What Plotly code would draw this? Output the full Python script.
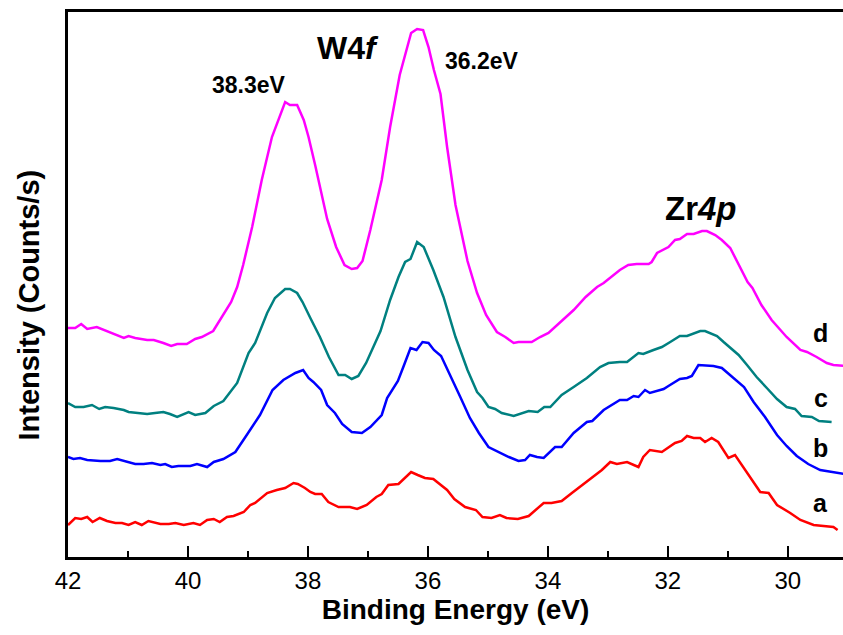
import plotly.graph_objects as go

# Binding energy (eV) and intensity (arb. counts)
energy_d = [42.00, 41.88, 41.78, 41.68, 41.52, 41.35, 41.21, 41.07, 40.99, 40.88, 40.68, 40.57, 40.41, 40.28, 40.18, 40.02,
            39.88, 39.77, 39.58, 39.43, 39.28, 39.18, 39.08, 38.93, 38.77, 38.60, 38.49, 38.38, 38.30, 38.18, 38.07, 37.99,
            37.88, 37.68, 37.53, 37.39, 37.27, 37.18, 37.09, 36.96, 36.77, 36.63, 36.47, 36.36, 36.28, 36.18, 36.08, 35.99,
            35.90, 35.79, 35.68, 35.54, 35.34, 35.18, 35.03, 34.85, 34.71, 34.57, 34.49, 34.27, 34.13, 33.99, 33.85, 33.71,
            33.57, 33.37, 33.18, 33.07, 32.93, 32.80, 32.66, 32.52, 32.32, 32.27, 32.18, 31.99, 31.88, 31.80, 31.68, 31.57,
            31.43, 31.35, 31.21, 31.10, 30.96, 30.81, 30.67, 30.59, 30.44, 30.27, 30.02, 29.79, 29.68, 29.52, 29.35, 29.24,
            29.05]
intensity_d = [229, 229, 233, 228, 230, 226, 223, 219, 221, 219, 217, 217, 214, 211, 213, 213,
               218, 220, 226, 240, 255, 270, 292, 330, 377, 420, 437, 455, 452, 452, 437, 420,
               392, 338, 310, 292, 288, 289, 296, 327, 377, 430, 482, 507, 524, 528, 527, 510,
               487, 463, 410, 352, 296, 264, 242, 225, 220, 214, 215, 215, 220, 224, 232, 239,
               247, 260, 270, 274, 281, 287, 292, 293, 293, 295, 304, 310, 317, 318, 323, 323,
               326, 326, 322, 317, 309, 291, 275, 269, 252, 237, 220, 207, 205, 200, 194, 192,
               191]

energy_c = [42.00, 41.88, 41.74, 41.60, 41.48, 41.38, 41.24, 41.07, 40.99, 40.80, 40.68, 40.55, 40.41, 40.30, 40.18, 39.99,
            39.88, 39.71, 39.57, 39.41, 39.18, 38.99, 38.88, 38.68, 38.55, 38.38, 38.30, 38.18, 38.09, 37.96, 37.80, 37.65,
            37.49, 37.38, 37.27, 37.16, 37.03, 36.79, 36.63, 36.49, 36.38, 36.29, 36.18, 36.07, 35.91, 35.74, 35.54, 35.34,
            35.18, 35.09, 34.99, 34.88, 34.77, 34.57, 34.40, 34.32, 34.17, 34.06, 33.96, 33.77, 33.57, 33.35, 33.13, 32.99,
            32.80, 32.68, 32.49, 32.41, 32.24, 32.10, 31.96, 31.80, 31.68, 31.46, 31.38, 31.27, 31.18, 31.07, 30.94, 30.82,
            30.68, 30.52, 30.35, 30.18, 30.02, 29.88, 29.77, 29.60, 29.48, 29.27]
intensity_c = [154, 150, 150, 152, 148, 150, 149, 147, 145, 144, 143, 144, 145, 143, 140, 145,
               142, 144, 151, 156, 174, 204, 214, 244, 259, 268, 268, 264, 255, 239, 220, 200,
               182, 182, 178, 181, 194, 226, 257, 280, 295, 298, 315, 310, 287, 260, 220, 187,
               165, 159, 150, 148, 144, 141, 144, 146, 145, 150, 150, 162, 170, 179, 190, 194,
               195, 195, 204, 203, 207, 210, 215, 221, 221, 226, 226, 223, 221, 215, 208, 202,
               192, 180, 169, 158, 150, 148, 141, 140, 136, 135]

energy_b = [42.00, 41.91, 41.80, 41.68, 41.46, 41.30, 41.18, 41.02, 40.88, 40.74, 40.60, 40.46, 40.38, 40.27, 40.16, 39.96,
            39.85, 39.68, 39.57, 39.41, 39.21, 39.02, 38.80, 38.59, 38.41, 38.21, 38.08, 37.99, 37.91, 37.78, 37.68, 37.55,
            37.43, 37.27, 37.10, 36.96, 36.84, 36.77, 36.68, 36.50, 36.41, 36.29, 36.19, 36.09, 35.99, 35.90, 35.78, 35.60,
            35.46, 35.30, 35.15, 34.99, 34.83, 34.65, 34.49, 34.38, 34.30, 34.18, 34.07, 33.96, 33.88, 33.77, 33.57, 33.35,
            33.26, 33.07, 32.80, 32.68, 32.57, 32.49, 32.38, 32.30, 32.07, 31.99, 31.80, 31.68, 31.60, 31.49, 31.32, 31.24,
            31.10, 30.96, 30.73, 30.57, 30.38, 30.18, 30.02, 29.85, 29.66, 29.46, 29.24, 29.10, 29.05]
intensity_b = [100, 98, 99, 97, 96, 96, 98, 95, 93, 93, 94, 92, 93, 90, 91, 91,
               93, 90, 95, 98, 105, 122, 142, 167, 177, 184, 187, 179, 175, 167, 152, 144,
               133, 125, 124, 130, 138, 142, 159, 176, 190, 209, 207, 215, 214, 207, 201, 177,
               160, 139, 124, 110, 105, 100, 96, 97, 102, 100, 99, 105, 110, 110, 124, 135,
               136, 147, 157, 157, 161, 160, 167, 164, 168, 171, 178, 179, 181, 192, 191, 191,
               189, 182, 170, 155, 140, 122, 111, 101, 93, 87, 85, 83, 83]

energy_a = [42.00, 41.88, 41.78, 41.68, 41.59, 41.47, 41.35, 41.21, 41.10, 40.99, 40.88, 40.77, 40.66, 40.46, 40.32, 40.21,
            40.07, 39.91, 39.80, 39.68, 39.57, 39.47, 39.35, 39.24, 39.07, 38.96, 38.88, 38.68, 38.52, 38.38, 38.24, 38.17,
            38.05, 37.96, 37.88, 37.77, 37.66, 37.49, 37.30, 37.18, 37.02, 36.86, 36.77, 36.66, 36.49, 36.38, 36.28, 36.17,
            36.05, 35.91, 35.78, 35.68, 35.56, 35.38, 35.20, 35.09, 34.94, 34.80, 34.69, 34.50, 34.32, 34.18, 34.07, 33.94,
            33.77, 33.60, 33.41, 33.21, 33.10, 32.96, 32.85, 32.68, 32.49, 32.41, 32.30, 32.10, 31.88, 31.77, 31.68, 31.57,
            31.46, 31.38, 31.27, 31.16, 30.99, 30.88, 30.68, 30.46, 30.32, 30.18, 29.96, 29.79, 29.57, 29.38, 29.24, 29.17]
intensity_a = [32, 39, 38, 40, 35, 39, 36, 34, 34, 32, 35, 32, 36, 33, 33, 34,
               32, 34, 32, 37, 38, 35, 40, 41, 45, 52, 54, 64, 67, 69, 74, 73,
               69, 65, 63, 63, 55, 50, 50, 48, 52, 60, 63, 72, 73, 79, 85, 82,
               79, 78, 72, 67, 58, 50, 47, 40, 39, 42, 39, 38, 41, 48, 54, 54,
               56, 64, 73, 82, 87, 95, 93, 95, 90, 100, 107, 105, 114, 116, 121, 119,
               119, 115, 119, 115, 99, 102, 84, 65, 64, 52, 44, 37, 32, 31, 30, 27]

series_names = ["d", "c", "b", "a"]
series_colors = ["#FF00FF", "#008080", "#0000FF", "#FF0000"]
series_energy = [energy_d, energy_c, energy_b, energy_a]
series_intensity = [intensity_d, intensity_c, intensity_b, intensity_a]

# x-axis ticks
major_ticks = [42, 40, 38, 36, 34, 32, 30]
minor_ticks = [41, 39, 37, 35, 33, 31]

# curve labels (text, energy, intensity)
label_text = ["d", "c", "b", "a"]
label_energy = [29.45, 29.45, 29.45, 29.45]
label_intensity = [224, 159, 109, 54]

# peak annotations
peak_text = ["38.3eV", "36.2eV", "W4<i>f</i>", "Zr<i>4p</i>"]
peak_energy = [38.98, 35.10, 37.33, 31.45]
peak_intensity = [472, 496, 509, 349]
peak_size = [23, 23, 32, 33]

FONT = "Liberation Sans, Arial, sans-serif"

fig = go.Figure()
for name, color, xs, ys in zip(series_names, series_colors, series_energy, series_intensity):
    fig.add_trace(go.Scatter(x=xs, y=ys, mode="lines", name=name,
                             line=dict(color=color, width=2.5), showlegend=False))

for t, x, y in zip(label_text, label_energy, label_intensity):
    fig.add_annotation(x=x, y=y, text=f"<b>{t}</b>", showarrow=False,
                       font=dict(family=FONT, size=25, color="black"))

for t, x, y, s in zip(peak_text, peak_energy, peak_intensity, peak_size):
    fig.add_annotation(x=x, y=y, text=f"<b>{t}</b>", showarrow=False,
                       font=dict(family=FONT, size=s, color="black"))

# y-axis title (placed as rotated text to match the reference position)
fig.add_annotation(xref="paper", yref="paper", x=-0.05, y=0.462, xanchor="center", yanchor="middle",
                   text="<b>Intensity (Counts/s)</b>", textangle=-90, showarrow=False,
                   font=dict(family=FONT, size=29, color="black"))

fig.update_layout(
    width=843, height=635,
    margin=dict(l=68, r=0, t=12, b=78),
    paper_bgcolor="white", plot_bgcolor="white",
    font=dict(family=FONT, color="black"),
)
fig.update_xaxes(
    range=[42, 29.08], tickvals=major_ticks,
    ticks="inside", ticklen=11, tickwidth=2, tickcolor="black",
    minor=dict(tickvals=minor_ticks, ticks="inside", ticklen=6, tickwidth=2, tickcolor="black"),
    showline=True, linewidth=2.5, linecolor="black", mirror=True,
    showgrid=False, zeroline=False,
    tickfont=dict(family=FONT, size=24, color="black"),
    title=dict(text="<b>Binding Energy (eV)</b>", font=dict(family=FONT, size=28, color="black"), standoff=6),
)
fig.update_yaxes(
    range=[0, 545], showticklabels=False, ticks="",
    showline=True, linewidth=2.5, linecolor="black", mirror=False,
    showgrid=False, zeroline=False,
)
fig.write_html("out.html")
